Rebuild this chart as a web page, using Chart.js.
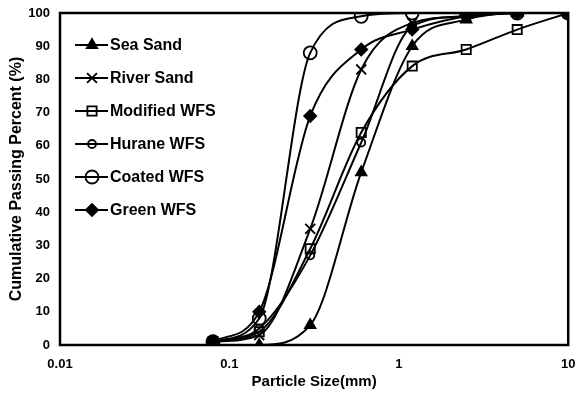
<!DOCTYPE html>
<html>
<head>
<meta charset="utf-8">
<script src="https://cdn.jsdelivr.net/npm/chart.js@4"></script>
<style>
  html, body { margin: 0; padding: 0; background: #ffffff; }
  #wrap { width: 577px; height: 393px; }
</style>
</head>
<body>
<div id="wrap"><canvas id="c" width="577" height="393"></canvas></div>
<script>
// sieve sizes (mm) and cumulative passing (%)
const sieveSizes = [0.08, 0.15, 0.3, 0.6, 1.2, 2.5, 5, 10];
const seaSand     = [0, 0, 6, 52, 90, 98, 100, 100];
const riverSand   = [1, 3, 35, 83, 97, 99, 100, 100];
const modifiedWfs = [1, 4, 29, 64, 84, 89, 95, 100];
const huraneWfs   = [1, 5, 27, 61, 96, 99, 100, 100];
const coatedWfs   = [1, 8, 88, 99, 100, 100, 100, 100];
const greenWfs    = [1, 10, 69, 89, 95, 99, 100, 100];

const xTickLabels = { 0.01: '0.01', 0.1: '0.1', 1: '1', 10: '10' };
const yTicks = [0, 10, 20, 30, 40, 50, 60, 70, 80, 90, 100];

const FONT = '"Liberation Sans", Arial, sans-serif';

function pts(vals) {
    return sieveSizes.map(function(s, i) { return { x: s, y: vals[i] }; });
}

function series(label, vals, style, radius, filled) {
    return {
        label: label,
        data: pts(vals),
        borderColor: '#000000',
        backgroundColor: filled ? '#000000' : 'rgba(0,0,0,0)',
        borderWidth: 2,
        pointStyle: style,
        pointRadius: radius,
        pointBorderWidth: 1.8,
        pointBorderColor: '#000000',
        pointBackgroundColor: filled ? '#000000' : 'rgba(0,0,0,0)',
        cubicInterpolationMode: 'monotone',
        fill: false
    };
}

const datasets = [
    series('Sea Sand', seaSand, 'triangle', 6, true),
    series('River Sand', riverSand, 'crossRot', 7, false),
    series('Modified WFS', modifiedWfs, 'rect', 6.5, false),
    series('Hurane WFS', huraneWfs, 'circle', 4, false),
    series('Coated WFS', coatedWfs, 'circle', 6.5, false),
    series('Green WFS', greenWfs, 'rectRot', 6, true)
];

// frame + legend drawn by hand (line with marker, like the original)
const framePlugin = {
    id: 'frame',
    afterDraw: function(chart) {
        const ctx = chart.ctx;
        const a = chart.chartArea;
        ctx.save();
        ctx.strokeStyle = '#000000';
        ctx.lineWidth = 2.5;
        ctx.strokeRect(a.left, a.top, a.right - a.left, a.bottom - a.top);

        // legend
        ctx.fillStyle = '#ffffff';
        ctx.fillRect(64, 26, 166, 200);
        ctx.font = 'bold 16px ' + FONT;
        ctx.textBaseline = 'middle';
        chart.data.datasets.forEach(function(ds, i) {
            const y = 45 + i * 33;
            ctx.strokeStyle = '#000000';
            ctx.lineWidth = 2;
            ctx.beginPath();
            ctx.moveTo(75, y);
            ctx.lineTo(108, y);
            ctx.stroke();
            ctx.lineWidth = ds.pointBorderWidth;
            ctx.fillStyle = ds.pointBackgroundColor;
            Chart.helpers.drawPoint(ctx, {
                pointStyle: ds.pointStyle,
                radius: ds.pointRadius,
                rotation: 0,
                borderWidth: ds.pointBorderWidth
            }, 92, y);
            ctx.fillStyle = '#000000';
            ctx.fillText(ds.label, 110, y + 1);
        });
        ctx.restore();
    }
};

const ctx = document.getElementById('c').getContext('2d');
new Chart(ctx, {
    type: 'line',
    data: { datasets: datasets },
    options: {
        responsive: false,
        animation: false,
        layout: { padding: { left: 7, right: 6, top: 13, bottom: 0 } },
        plugins: {
            legend: { display: false },
            tooltip: { enabled: false }
        },
        scales: {
            x: {
                type: 'logarithmic',
                min: 0.01,
                max: 10,
                grid: { display: false },
                border: { display: false },
                afterBuildTicks: function(axis) {
                    axis.ticks = [0.01, 0.1, 1, 10].map(function(v) { return { value: v }; });
                },
                ticks: {
                    color: '#000000',
                    font: { family: FONT, size: 13, weight: 'bold' },
                    maxRotation: 0,
                    autoSkip: false,
                    padding: 4,
                    callback: function(value) { return xTickLabels[value] || ''; }
                },
                title: {
                    display: true,
                    text: 'Particle Size(mm)',
                    color: '#000000',
                    font: { family: FONT, size: 15, weight: 'bold' },
                    padding: { top: 0, bottom: 2 }
                },
                afterFit: function(axis) {
                    axis.height = 48;
                    axis.paddingLeft = 0;
                    axis.paddingRight = 0;
                }
            },
            y: {
                type: 'linear',
                min: 0,
                max: 100,
                grid: { display: false },
                border: { display: false },
                afterBuildTicks: function(axis) {
                    axis.ticks = yTicks.map(function(v) { return { value: v }; });
                },
                ticks: {
                    color: '#000000',
                    font: { family: FONT, size: 13, weight: 'bold' },
                    padding: 2
                },
                title: {
                    display: true,
                    text: 'Cumulative Passing Percent (%)',
                    color: '#000000',
                    font: { family: FONT, size: 16, weight: 'bold' },
                    padding: { top: 0, bottom: 0 }
                },
                afterFit: function(axis) {
                    axis.width = 53;
                    axis.paddingTop = 0;
                    axis.paddingBottom = 0;
                }
            }
        }
    },
    plugins: [framePlugin]
});
</script>
</body>
</html>
